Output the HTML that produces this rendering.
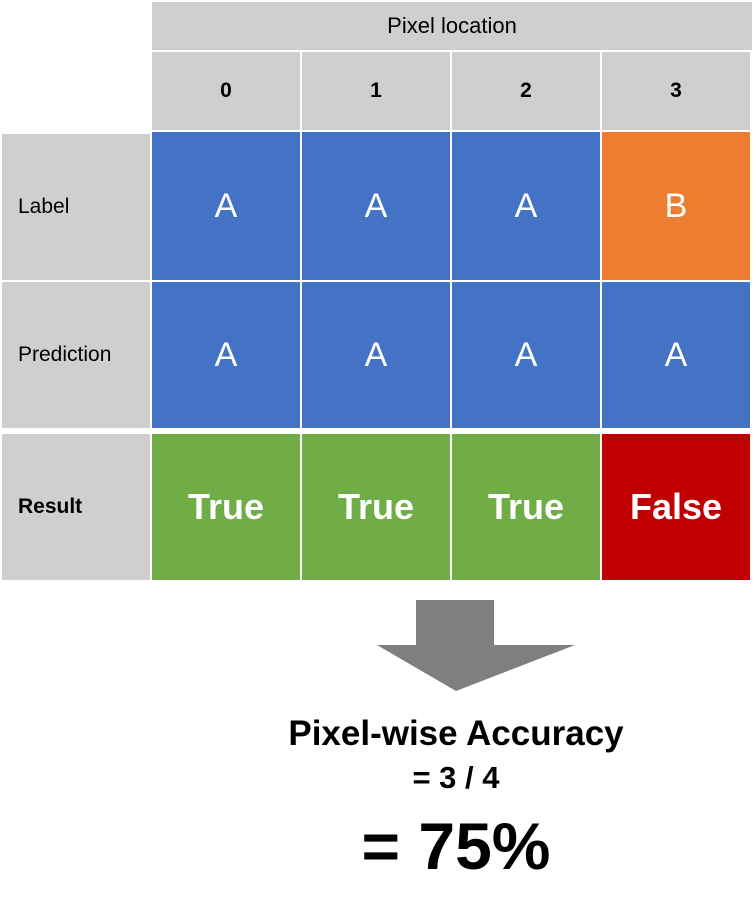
<!DOCTYPE html>
<html><head><meta charset="utf-8"><style>
body{margin:0;width:756px;height:921px;background:#fff;position:relative;font-family:"Liberation Sans",Arial,sans-serif;overflow:hidden}
.c{position:absolute;display:flex;align-items:center;justify-content:center;box-sizing:border-box}
.g{background:#d0cece;color:#000}
.b{background:#4472c4;color:#fff;font-size:34px}
.o{background:#ed7d31;color:#fff;font-size:34px}
.gr{background:#70ad47;color:#fff;font-size:36px;font-weight:bold}
.r{background:#c00000;color:#fff;font-size:36px;font-weight:bold}
.l{justify-content:flex-start;padding-left:16px;font-size:21px}
.t{position:absolute;left:156px;width:600px;text-align:center;font-weight:bold}
</style></head><body>
<div class="c g" style="left:152px;top:2px;width:600px;height:48px;font-size:22px">Pixel location</div>
<div id="grid"></div>
<svg style="position:absolute;left:0;top:0" width="756" height="921">
<polygon points="416,600 494,600 494,645 575,645 456,691 377,645 416,645" fill="#7f7f7f"/>
</svg>
<div class="t" style="top:714px;font-size:35px">Pixel-wise Accuracy</div>
<div class="t" style="top:760px;font-size:31px">= 3 / 4</div>
<div class="t" style="top:808px;font-size:66px">= 75%</div>
<script>
const cols=["0","1","2","3"];
const labels=["A","A","A","B"];
const preds=["A","A","A","A"];
const xs=[152,302,452,602];
const g=document.getElementById('grid');
function cell(cls,x,y,w,h,txt,name){const d=document.createElement('div');d.className='c '+cls;d.style.cssText=`left:${x}px;top:${y}px;width:${w}px;height:${h}px`;d.textContent=txt;


g.appendChild(d);return d;}
cols.forEach((c,i)=>{const d=cell('g',xs[i],52,148,78,c,'column-index-'+c);d.style.fontSize='21px';d.style.fontWeight='bold';});
cell('g l',2,134,148,146,'Label','label-row-header');
cell('g l',2,282,148,146,'Prediction','prediction-row-header');
const rh=cell('g l',2,434,148,146,'Result','result-row-header');rh.style.fontWeight='bold';
cols.forEach((c,i)=>{
cell(labels[i]==='A'?'b':'o',xs[i],132,148,148,labels[i],'label-cell-'+c);
cell(preds[i]==='A'?'b':'o',xs[i],282,148,146,preds[i],'prediction-cell-'+c);
const ok=labels[i]===preds[i];
cell(ok?'gr':'r',xs[i],434,148,146,ok?'True':'False','result-cell-'+c);
});
</script>
</body></html>
